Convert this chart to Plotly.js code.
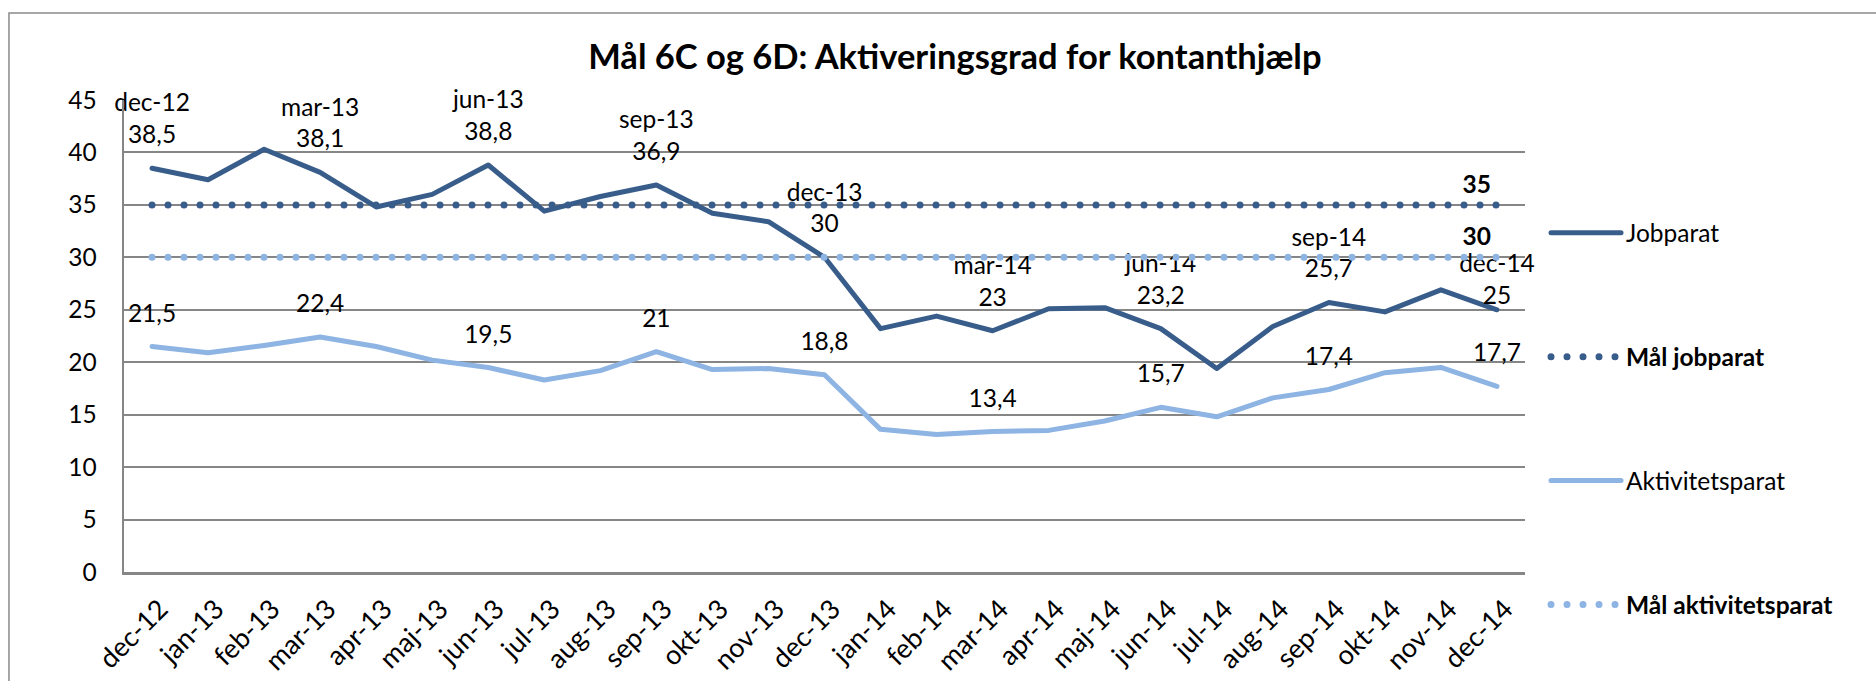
<!DOCTYPE html>
<html>
<head>
<meta charset="utf-8">
<script src="https://cdn.plot.ly/plotly-3.0.1.min.js"></script>
<style>
  html, body { margin: 0; padding: 0; background: #ffffff; }
  #chart { width: 1876px; height: 681px; }
  .js-line { stroke-linecap: round; stroke-linejoin: round; }
</style>
</head>
<body>
<div id="chart"></div>
<script>
const categories = ['dec-12','jan-13','feb-13','mar-13','apr-13','maj-13','jun-13','jul-13','aug-13','sep-13','okt-13','nov-13','dec-13','jan-14','feb-14','mar-14','apr-14','maj-14','jun-14','jul-14','aug-14','sep-14','okt-14','nov-14','dec-14'];
const jobparat = [38.5,37.4,40.3,38.1,34.8,36.0,38.8,34.4,35.8,36.9,34.2,33.4,30,23.2,24.4,23,25.1,25.2,23.2,19.4,23.4,25.7,24.8,26.9,25];
const aktivitetsparat = [21.5,20.9,21.6,22.4,21.5,20.2,19.5,18.3,19.2,21,19.3,19.4,18.8,13.6,13.1,13.4,13.5,14.4,15.7,14.8,16.6,17.4,19.0,19.5,17.7];
const maalJobparat = [35,35,35,35,35,35,35,35,35,35,35,35,35,35,35,35,35,35,35,35,35,35,35,35,35];
const maalAktivitetsparat = [30,30,30,30,30,30,30,30,30,30,30,30,30,30,30,30,30,30,30,30,30,30,30,30,30];
const labelIdx = [0,3,6,9,12,15,18,21,24];
const yTicks = [0,5,10,15,20,25,30,35,40,45];

const fmt = v => String(v).replace('.', ',');
const jobText = jobparat.map((v,i) => labelIdx.includes(i) ? categories[i] + '<br>' + fmt(v) : '');
const aktText = aktivitetsparat.map((v,i) => labelIdx.includes(i) ? fmt(v) : '');
const lastOnly = (arr) => arr.map((v,i) => i === arr.length - 1 ? '<b>' + fmt(v) + '</b>' : '');

const darkBlue = '#385D8A';
const lightBlue = '#8DB4E2';
const FONT = 'Lato, sans-serif';
const txtFont = {family: FONT, size: 24.5, color: '#000000'};
// invisible marker sizes only control how far the data labels sit above the line
const jobLabelGap = categories.map((c,i) => i === categories.length - 1 ? 0 : 28.5);
const noMarker = (size) => ({size: size, color: 'rgba(0,0,0,0)', line: {width: 0, color: 'rgba(0,0,0,0)'}});

const traces = [
  {
    x: categories, y: jobparat, name: 'Jobparat', legendgroup: 'a',
    type: 'scatter', mode: 'lines+markers+text', cliponaxis: false,
    line: {color: darkBlue, width: 5},
    marker: noMarker(jobLabelGap),
    text: jobText, textposition: 'top center', textfont: txtFont,
    hoverinfo: 'x+y'
  },
  {
    x: categories, y: maalJobparat, name: '<b>Mål jobparat</b>', legendgroup: 'b',
    type: 'scatter', mode: 'lines+markers+text', cliponaxis: false,
    line: {color: darkBlue, width: 7, dash: '0px,16px'},
    marker: noMarker(8),
    text: lastOnly(maalJobparat), textposition: 'top left', textfont: txtFont,
    hoverinfo: 'x+y'
  },
  {
    x: categories, y: aktivitetsparat, name: 'Aktivitetsparat', legendgroup: 'c',
    type: 'scatter', mode: 'lines+markers+text', cliponaxis: false,
    line: {color: lightBlue, width: 5},
    marker: noMarker(28.5),
    text: aktText, textposition: 'top center', textfont: txtFont,
    hoverinfo: 'x+y'
  },
  {
    x: categories, y: maalAktivitetsparat, name: '<b>Mål aktivitetsparat</b>', legendgroup: 'd',
    type: 'scatter', mode: 'lines+markers+text', cliponaxis: false,
    line: {color: lightBlue, width: 7, dash: '0px,16px'},
    marker: noMarker(8),
    text: lastOnly(maalAktivitetsparat), textposition: 'top left', textfont: txtFont,
    hoverinfo: 'x+y'
  }
];

const layout = {
  width: 1876, height: 681,
  paper_bgcolor: '#ffffff', plot_bgcolor: '#ffffff',
  margin: {l: 124, r: 351, t: 100, b: 109},
  font: {family: FONT, size: 24, color: '#000000'},
  title: {
    text: 'Mål 6C og 6D: Aktiveringsgrad for kontanthjælp',
    font: {family: FONT, size: 34.5, color: '#000000', weight: 'bold'},
    x: 0.509, xanchor: 'center', xref: 'container',
    y: 0.916, yanchor: 'middle', yref: 'container'
  },
  xaxis: {
    type: 'category', range: [-0.5, 24.5],
    tickangle: -45, tickfont: {family: FONT, size: 27, color: '#000000'},
    ticklabelstandoff: 8, ticklabelshift: 8,
    showline: true, linecolor: '#868686', linewidth: 2.5,
    showgrid: false, zeroline: false, ticks: '', fixedrange: true
  },
  yaxis: {
    range: [0, 45], tickvals: yTicks, ticktext: yTicks.map(String),
    tickfont: {family: FONT, size: 24.5, color: '#000000'},
    showline: true, linecolor: '#868686', linewidth: 2.5,
    showgrid: true, gridcolor: '#868686', gridwidth: 2,
    zeroline: false, ticks: '', ticklabelstandoff: 20, fixedrange: true
  },
  showlegend: true,
  legend: {
    x: 1.015, xanchor: 'left', y: 0.766, yanchor: 'top',
    font: {family: FONT, size: 24.5, color: '#000000'},
    tracegroupgap: 89, itemwidth: 70, bgcolor: 'rgba(0,0,0,0)',
    traceorder: 'grouped'
  },
  shapes: [
    {type: 'rect', xref: 'paper', yref: 'paper', x0: -0.0821, x1: 1.4, y0: -0.4, y1: 1.1845,
     line: {color: '#8a8a8a', width: 1.5}, fillcolor: 'rgba(0,0,0,0)', layer: 'below'}
  ]
};

Plotly.newPlot('chart', traces, layout, {displayModeBar: false, staticPlot: true});
</script>
</body>
</html>
